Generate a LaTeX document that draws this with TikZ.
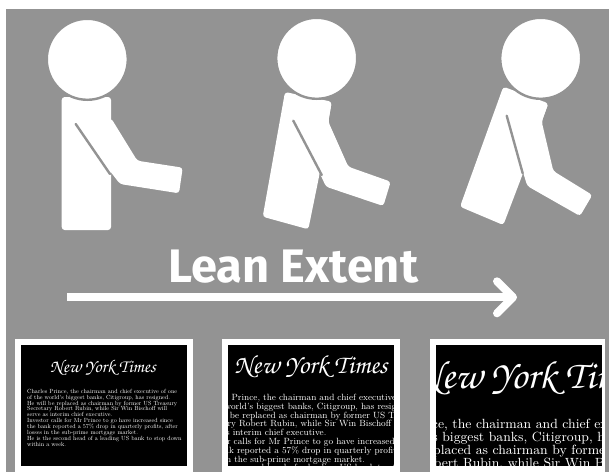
\documentclass[tikz,border=0pt]{standalone}
\usepackage{fontspec}
\setsansfont{Fira Sans}
\usepackage[T1,TU]{fontenc}
\usepackage{tikz}
\usetikzlibrary{
	arrows.meta,
	positioning
}
\definecolor{fondo}{HTML}{939393}
\newcommand{\paneltitle}{\usefont{T1}{pzc}{m}{it}New York Times}
\newcommand{\panelbody}{Charles Prince, the chairman and chief executive of one\\
	of the world's biggest banks, Citigroup, has resigned.\\
	He will be replaced as chairman by former US Treasury\\
	Secretary Robert Rubin, while Sir Win Bischoff will\\
	serve as interim chief executive.\\
	Investor calls for Mr Prince to go have increased since\\
	the bank reported a 57\% drop in quarterly profits, after\\
	losses in the sub-prime mortgage market.\\
	He is the second head of a leading US bank to stop down\\
	within a week.}

\begin{document}
\begin{tikzpicture}[
			x=1pt, y=-1pt,
			figura/.style={fill=white, rounded corners=3pt},
			ranura/.style={draw=fondo, line width=2.4pt, line cap=round},
			cabeza/.style={circle, draw=fondo, line width=2.4pt, fill=white, minimum size=81pt, inner sep=0pt},
			marco/.style={fill=white},
			negro/.style={fill=black},
			titulo/.style={text=white, inner sep=0pt, anchor=center, font=\fontsize{27}{27}\selectfont},
			cuerpo/.style={text=white, inner sep=0pt, anchor=north west, align=left, font=\fontsize{9}{8.8}\selectfont},
			flecha/.style={draw=white, line width=8pt, -{Straight Barb[round, length=16pt, width=32pt]}}
		]

		\useasboundingbox (0,0) rectangle (609,472);
		\fill[white] (0,0) rectangle (609,472);
		\fill[fondo] (6,9) rectangle (609,471.5);

		% primera figura
		\fill[figura] (61.7,97) -- (111,97) -- (111,230) -- (61.7,230) -- cycle;
		\fill[figura] (111,118) -- (137.3,160.7) -- (182.7,167.7) -- (179,193.3) -- (120,184) -- (90,145) -- cycle;
		\draw[ranura] (75.7,124) -- (110,174);
		\node[cabeza] (cabezaA) at (87.3,59.3) {};

		% segunda figura
		\fill[figura] (285,92) -- (262.7,216.7) -- (308.3,229.3) -- (319,176.7) -- (331.7,101.7) -- cycle;
		\fill[figura] (331.7,101.7) -- (328.3,121.7) -- (348.3,166.7) -- (390.7,181.7) -- (383.3,206) -- (326,186.7) -- (300,130) -- cycle;
		\draw[ranura] (293.3,120.7) -- (321.7,175);
		\node[cabeza] (cabezaB) at (316.7,58.3) {};

		% tercera figura
		\fill[figura] (503.3,86.7) -- (460,206.7) -- (503.3,225) -- (521.7,176.7) -- (548.3,103.3) -- cycle;
		\fill[figura] (548.3,103.3) -- (541.7,121.7) -- (553.3,171) -- (592.3,195) -- (580,216) -- (527.3,186) -- (510,130) -- cycle;
		\draw[ranura] (506.7,115.7) -- (522.7,173.3);
		\node[cabeza] (cabezaC) at (540.7,58.3) {};

		\node[text=white, inner sep=0pt, anchor=base, font=\sffamily\bfseries\fontsize{47}{47}\selectfont] (rotulo) at (293.3,282.3) {Lean Extent};
		\coordinate (inicio) at (67.3,297.3);
		\coordinate (punta) at (517,297.3);
		\draw[flecha] (inicio) -- (punta);

		% paneles
		\fill[marco] (15,339) rectangle (192.7,472);
		\fill[negro] (21,345) rectangle (187,465.7);
		\begin{scope}
			\clip (21,345) rectangle (187,465.7);
			\node[titulo, scale=0.67] (tituloA) at (103,368) {\paneltitle};
			\node[cuerpo, scale=0.665] (cuerpoA) at (27,389) {\panelbody};
		\end{scope}

		\fill[marco] (222.3,339) rectangle (400,472);
		\fill[negro] (227.7,345) rectangle (394,465.7);
		\begin{scope}
			\clip (227.7,345) rectangle (394,465.7);
			\node[titulo, scale=0.97] (tituloB) at (311,367) {\paneltitle};
			\node[cuerpo] (cuerpoB) at (198,394) {\panelbody};
		\end{scope}

		\fill[marco] (430,339) rectangle (605,472);
		\fill[negro] (435.7,345) rectangle (601.5,465.7);
		\begin{scope}
			\clip (435.7,345) rectangle (601.5,465.7);
			\node[titulo, scale=1.47] (tituloC) at (530,378) {\paneltitle};
			\node[cuerpo, scale=1.48] (cuerpoC) at (356,418.5) {\panelbody};
		\end{scope}
	\end{tikzpicture}
\end{document}
